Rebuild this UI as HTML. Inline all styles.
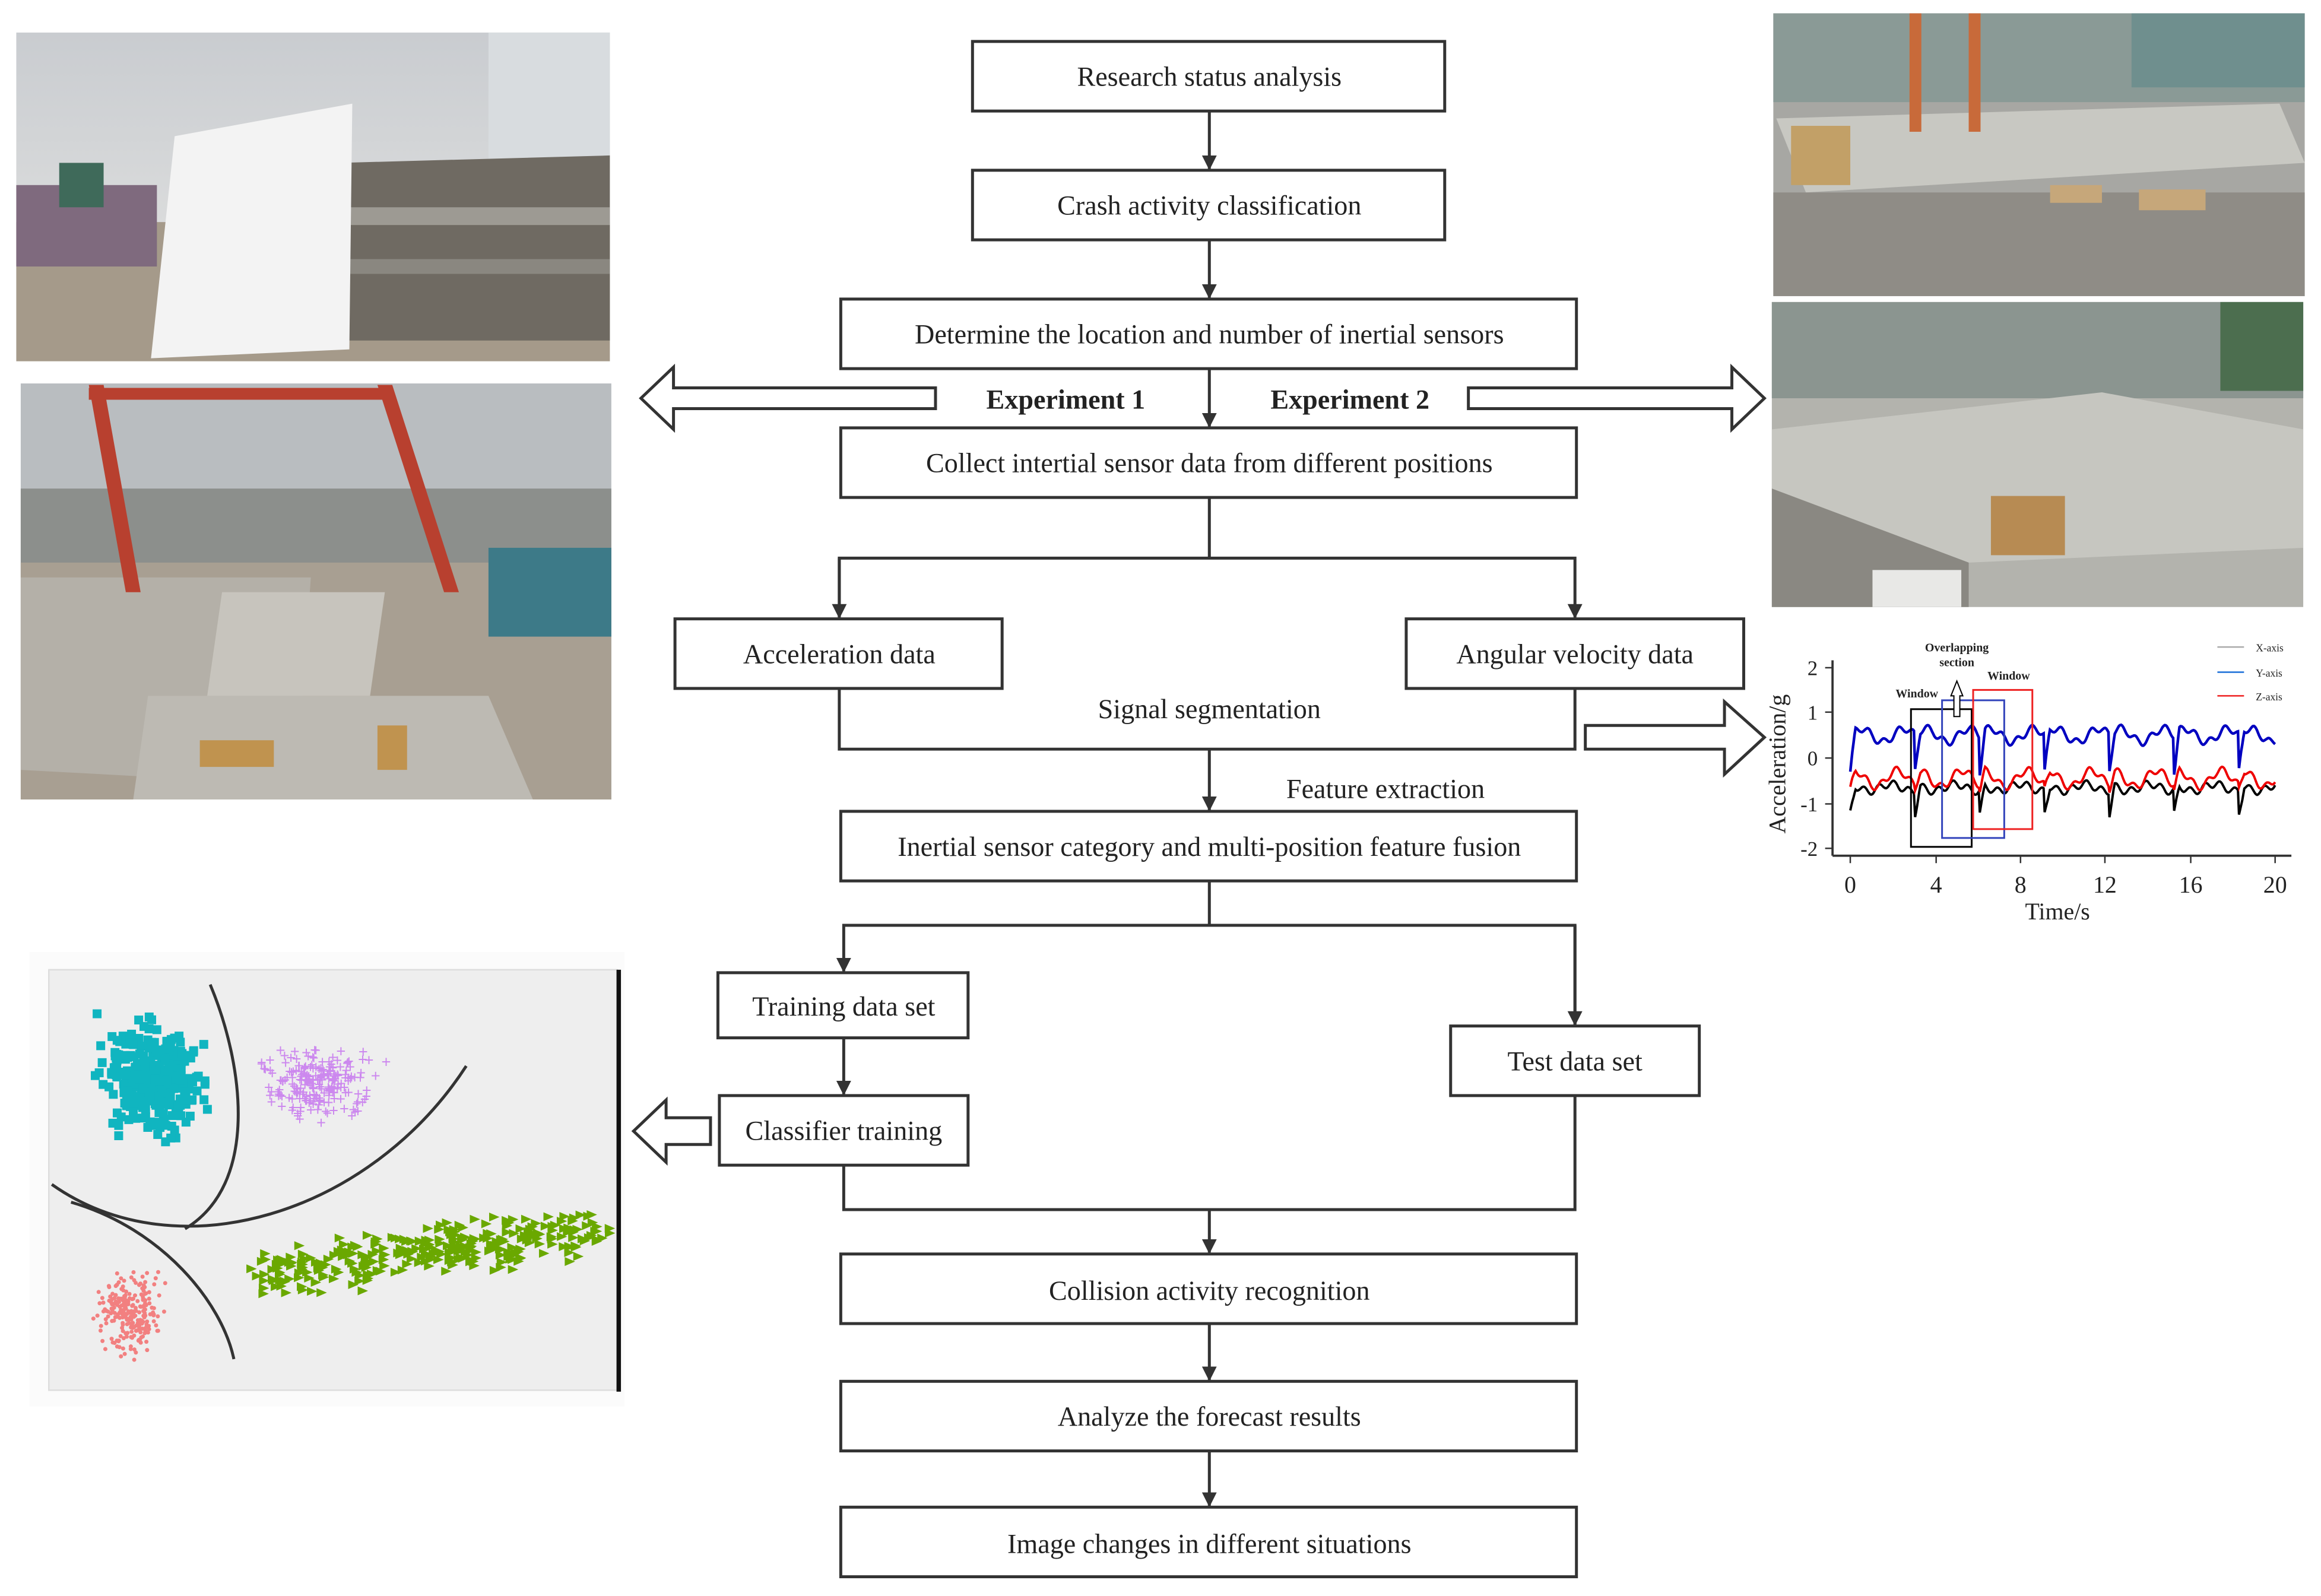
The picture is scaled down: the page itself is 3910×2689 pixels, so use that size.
<!DOCTYPE html>
<html><head><meta charset="utf-8"><style>
html,body{margin:0;padding:0;background:#fff}
svg{display:block}
text{font-family:"Liberation Serif",serif;fill:#222}
</style></head><body>
<svg id="s" width="3910" height="2689" viewBox="0 0 1568 1078" preserveAspectRatio="none" xmlns="http://www.w3.org/2000/svg">
<defs>
<marker id="ah" markerWidth="10" markerHeight="10" refX="9" refY="5" orient="auto" markerUnits="userSpaceOnUse"><path d="M0,0 L10,5 L0,10 z" fill="#333"/></marker>
<linearGradient id="sky" x1="0" y1="0" x2="0" y2="1"><stop offset="0" stop-color="#c9ccd0"/><stop offset="1" stop-color="#e6e6e4"/></linearGradient>
</defs>
<rect width="1568" height="1078" fill="#fff"/>

<g>
<rect x="11" y="22" width="401" height="222" fill="url(#sky)"/>
<rect x="11" y="150" width="401" height="94" fill="#a59a8a"/>
<rect x="330" y="22" width="82" height="95" fill="#d8dcdf"/>
<polygon points="230,110 412,105 412,230 230,230" fill="#6f6a62"/>
<rect x="230" y="140" width="182" height="12" fill="#9d9a93"/>
<rect x="230" y="175" width="182" height="10" fill="#8a8780"/>
<polygon points="118,92 238,70 236,236 102,242" fill="#f3f3f3"/>
<rect x="11" y="125" width="95" height="55" fill="#7f6a7e"/>
<rect x="40" y="110" width="30" height="30" fill="#3f6a5a"/>
</g>
<g>
<rect x="14" y="259" width="399" height="281" fill="#b9bdc0"/>
<rect x="14" y="330" width="399" height="60" fill="#8c8f8c"/>
<rect x="14" y="380" width="399" height="160" fill="#a89f92"/>
<polygon points="14,390 210,390 200,530 14,520" fill="#b4b0a8"/>
<polygon points="150,400 260,400 250,470 140,470" fill="#c7c4bd"/>
<polygon points="100,470 330,470 360,540 90,540" fill="#bdbab3"/>
<polygon points="60,260 70,260 95,400 85,400" fill="#b8402f"/>
<polygon points="255,260 265,260 310,400 300,400" fill="#b8402f"/>
<rect x="60" y="262" width="205" height="8" fill="#b8402f"/>
<rect x="330" y="370" width="83" height="60" fill="#3d7a88"/>
<rect x="135" y="500" width="50" height="18" fill="#c0934f"/>
<rect x="255" y="490" width="20" height="30" fill="#c0934f"/>
</g>
<g>
<rect x="1198" y="9" width="359" height="191" fill="#a7a7a3"/>
<rect x="1198" y="9" width="359" height="60" fill="#8a9a96"/>
<rect x="1440" y="9" width="117" height="50" fill="#6f8f8e"/>
<polygon points="1200,80 1540,70 1557,110 1220,130" fill="#c8c8c2"/>
<rect x="1198" y="130" width="359" height="70" fill="#8f8c86"/>
<rect x="1210" y="85" width="40" height="40" fill="#c2a067"/>
<rect x="1385" y="125" width="35" height="12" fill="#c6a77a"/>
<rect x="1445" y="128" width="45" height="14" fill="#c6a77a"/>
<rect x="1290" y="9" width="8" height="80" fill="#c86a3a"/>
<rect x="1330" y="9" width="8" height="80" fill="#c86a3a"/>
</g>
<g>
<rect x="1197" y="204" width="359" height="206" fill="#b3b3ad"/>
<rect x="1197" y="204" width="359" height="65" fill="#8b9590"/>
<rect x="1500" y="204" width="56" height="60" fill="#4c6e4f"/>
<polygon points="1197,290 1420,265 1556,290 1556,370 1330,380 1197,330" fill="#c6c6c0"/>
<polygon points="1197,330 1330,380 1330,410 1197,410" fill="#8a8882"/>
<rect x="1345" y="335" width="50" height="40" fill="#b78b53"/>
<rect x="1265" y="385" width="60" height="25" fill="#e8e8e6"/>
</g>

<g>
<rect x="20" y="643" width="402" height="307" fill="#fbfbfb"/>
<rect x="33" y="655" width="384" height="284" fill="#eeeeee" stroke="#ddd"/>
<line x1="418" y1="655" x2="418" y2="940" stroke="#111" stroke-width="3"/>
<g id="scat"></g>
<path d="M142,665 C165,720 175,800 125,830" stroke="#333" stroke-width="2" fill="none"/>
<path d="M35,800 C120,860 250,820 315,720" stroke="#333" stroke-width="2" fill="none"/>
<path d="M48,812 C110,830 150,880 158,918" stroke="#333" stroke-width="2" fill="none"/>
</g>

<g font-size="13">
<line x1="1238" y1="446" x2="1238" y2="578" stroke="#333" stroke-width="1.5"/>
<line x1="1238" y1="578" x2="1548" y2="578" stroke="#333" stroke-width="1.5"/>
<g stroke="#333"><line x1="1233" y1="451" x2="1238" y2="451"/><line x1="1233" y1="481" x2="1238" y2="481"/><line x1="1233" y1="512" x2="1238" y2="512"/><line x1="1233" y1="543" x2="1238" y2="543"/><line x1="1233" y1="573" x2="1238" y2="573"/>
<line x1="1250" y1="578" x2="1250" y2="583"/><line x1="1308" y1="578" x2="1308" y2="583"/><line x1="1365" y1="578" x2="1365" y2="583"/><line x1="1422" y1="578" x2="1422" y2="583"/><line x1="1480" y1="578" x2="1480" y2="583"/><line x1="1537" y1="578" x2="1537" y2="583"/></g>
<g font-size="14" text-anchor="end"><text x="1228" y="456">2</text><text x="1228" y="486">1</text><text x="1228" y="517">0</text><text x="1228" y="548">-1</text><text x="1228" y="578">-2</text></g>
<g font-size="16" text-anchor="middle"><text x="1250" y="603">0</text><text x="1308" y="603">4</text><text x="1365" y="603">8</text><text x="1422" y="603">12</text><text x="1480" y="603">16</text><text x="1537" y="603">20</text></g>
<text x="1390" y="621" font-size="16" text-anchor="middle">Time/s</text>
<text transform="translate(1206,516) rotate(-90)" font-size="16" text-anchor="middle">Acceleration/g</text>
<polyline id="cx" fill="none" stroke="#000" stroke-width="1.6"/>
<polyline id="cz" fill="none" stroke="#e00" stroke-width="1.6"/>
<polyline id="cy" fill="none" stroke="#0000c0" stroke-width="1.8"/>
<rect x="1291" y="479" width="41" height="93" fill="none" stroke="#000" stroke-width="1.2"/>
<rect x="1312" y="473" width="42" height="93" fill="none" stroke="#3344bb" stroke-width="1.2"/>
<rect x="1333" y="466" width="40" height="94" fill="none" stroke="#e22" stroke-width="1.2"/>
<path d="M1320,484 L1320,470 L1318,470 L1322,460 L1326,470 L1324,470 L1324,484 z" fill="#fff" stroke="#000" stroke-width="0.8"/>
<g font-size="8" font-weight="bold" text-anchor="middle"><text x="1322" y="440">Overlapping</text><text x="1322" y="450">section</text><text x="1357" y="459">Window</text><text x="1295" y="471">Window</text></g>
<g font-size="7"><line x1="1498" y1="437" x2="1516" y2="437" stroke="#aaa"/><text x="1524" y="440">X-axis</text>
<line x1="1498" y1="454" x2="1516" y2="454" stroke="#1a6fd8"/><text x="1524" y="457">Y-axis</text>
<line x1="1498" y1="470" x2="1516" y2="470" stroke="#e22"/><text x="1524" y="473">Z-axis</text></g>
</g>

<g fill="#fff" stroke="#333" stroke-width="2">
<rect x="657" y="28" width="319" height="47"/>
<rect x="657" y="115" width="319" height="47"/>
<rect x="568" y="202" width="497" height="47"/>
<rect x="568" y="289" width="497" height="47"/>
<rect x="456" y="418" width="221" height="47"/>
<rect x="950" y="418" width="228" height="47"/>
<rect x="568" y="548" width="497" height="47"/>
<rect x="485" y="657" width="169" height="44"/>
<rect x="486" y="740" width="168" height="47"/>
<rect x="980" y="693" width="168" height="47"/>
<rect x="568" y="847" width="497" height="47"/>
<rect x="568" y="933" width="497" height="47"/>
<rect x="568" y="1018" width="497" height="47"/>
</g>
<g stroke="#333" stroke-width="2" fill="none">
<line x1="817" y1="75" x2="817" y2="114" marker-end="url(#ah)"/>
<line x1="817" y1="162" x2="817" y2="201" marker-end="url(#ah)"/>
<line x1="817" y1="249" x2="817" y2="288" marker-end="url(#ah)"/>
<polyline points="817,336 817,377"/>
<polyline points="567,417 567,377 1064,377 1064,417" marker-end="url(#ah)"/>
<line x1="567" y1="377" x2="567" y2="417" marker-end="url(#ah)"/>
<polyline points="567,465 567,506 1064,506 1064,465"/>
<line x1="817" y1="506" x2="817" y2="547" marker-end="url(#ah)"/>
<polyline points="817,595 817,625"/>
<polyline points="1064,692 1064,625 570,625 570,656" marker-end="url(#ah)"/>
<line x1="1064" y1="625" x2="1064" y2="692" marker-end="url(#ah)"/>
<line x1="570" y1="701" x2="570" y2="739" marker-end="url(#ah)"/>
<polyline points="570,787 570,817 1064,817 1064,740"/>
<line x1="817" y1="817" x2="817" y2="846" marker-end="url(#ah)"/>
<line x1="817" y1="894" x2="817" y2="932" marker-end="url(#ah)"/>
<line x1="817" y1="980" x2="817" y2="1017" marker-end="url(#ah)"/>
</g>
<g fill="#fff" stroke="#333" stroke-width="2">
<polygon points="632,262 455,262 455,248 433,269 455,290 455,276 632,276"/>
<polygon points="992,262 1170,262 1170,248 1192,269 1170,290 1170,276 992,276"/>
<polygon points="1071,490 1165,490 1165,474 1192,498 1165,523 1165,506 1071,506"/>
<polygon points="480,755 450,755 450,743 428,764 450,785 450,773 480,773"/>
</g>
<g font-size="18.5" text-anchor="middle">
<text x="817" y="58">Research status analysis</text>
<text x="817" y="145">Crash activity classification</text>
<text x="817" y="232">Determine the location and number of inertial sensors</text>
<text x="817" y="319">Collect intertial sensor data from different positions</text>
<text x="567" y="448">Acceleration data</text>
<text x="1064" y="448">Angular velocity data</text>
<text x="817" y="485">Signal segmentation</text>
<text x="936" y="539">Feature extraction</text>
<text x="817" y="578">Inertial sensor category and multi-position feature fusion</text>
<text x="570" y="686">Training data set</text>
<text x="570" y="770">Classifier training</text>
<text x="1064" y="723">Test data set</text>
<text x="817" y="878">Collision activity recognition</text>
<text x="817" y="963">Analyze the forecast results</text>
<text x="817" y="1049">Image changes in different situations</text>
<text x="720" y="276" font-weight="bold">Experiment 1</text>
<text x="912" y="276" font-weight="bold">Experiment 2</text>
</g>
</svg>
<script>
(function(){
var ns="http://www.w3.org/2000/svg";
var seed=7;function r(){seed=(seed*16807)%2147483647;return seed/2147483647;}
function g(){return (r()+r()+r()-1.5)/1.5;}
var sc=document.getElementById("scat");
function add(el){sc.appendChild(el);}
var i,x,y,e;
for(i=0;i<300;i++){x=100+g()*45;y=725+g()*50;e=document.createElementNS(ns,"rect");e.setAttribute("x",x);e.setAttribute("y",y);e.setAttribute("width",6);e.setAttribute("height",6);e.setAttribute("fill","#10b5c0");add(e);}
for(i=0;i<220;i++){x=212+g()*50;y=735+g()*32;e=document.createElementNS(ns,"text");e.setAttribute("x",x);e.setAttribute("y",y);e.setAttribute("font-size","11");e.setAttribute("style","fill:#cc88ee;font-family:'Liberation Sans',sans-serif");e.textContent="+";add(e);}
for(i=0;i<320;i++){var t=r();x=170+t*230+g()*22;y=858-t*30+g()*24;e=document.createElementNS(ns,"polygon");e.setAttribute("points",x+","+y+" "+(x+7)+","+(y+3)+" "+x+","+(y+6));e.setAttribute("fill","#6aa800");add(e);}
for(i=0;i<240;i++){x=88+g()*32;y=888+g()*38;e=document.createElementNS(ns,"circle");e.setAttribute("cx",x);e.setAttribute("cy",y);e.setAttribute("r",1.4);e.setAttribute("fill","#f28080");add(e);}
function curve(id,base,amp,dip,phase){var p=[];for(var k=0;k<=400;k++){var t=k/20;var c=(t%3.05)/3.05;var v=base+amp*Math.sin(c*Math.PI*2*1.5+phase)+0.08*Math.sin(t*9+phase);if(c<0.08)v-=dip*(1-c/0.08);
var X=1250+t*14.35,Y=512-v*30.7;p.push(X.toFixed(1)+","+Y.toFixed(1));}document.getElementById(id).setAttribute("points",p.join(" "));}
curve("cy",0.5,0.15,0.8,0);curve("cz",-0.45,0.18,0.4,1);curve("cx",-0.65,0.08,0.65,2);
})();
</script>
</body></html>
